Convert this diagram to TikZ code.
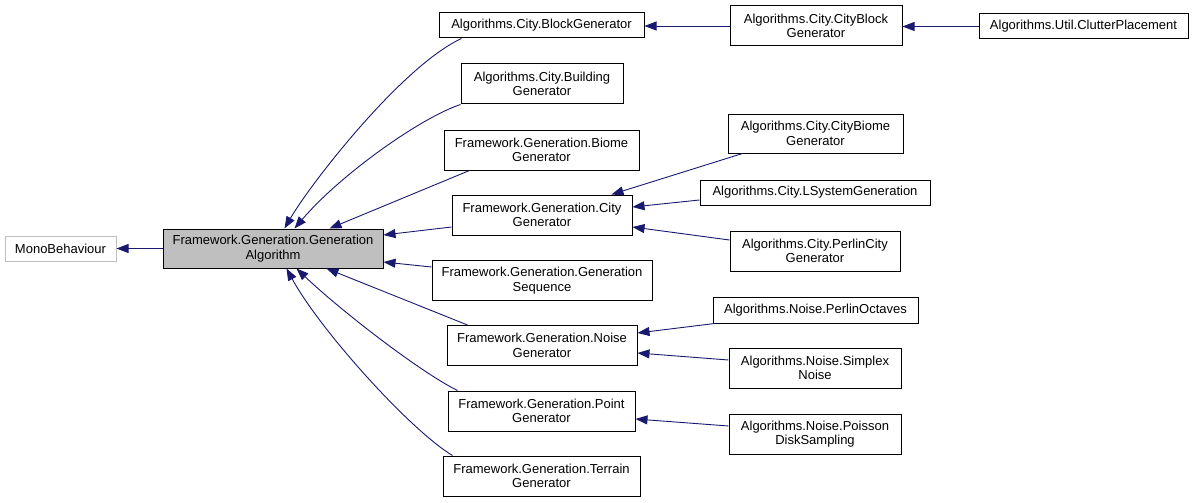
\documentclass[tikz,border=0pt]{standalone}
\usepackage{fontspec}
\setmainfont{Liberation Sans}
\usetikzlibrary{arrows.meta}
\definecolor{edgeblue}{HTML}{191970}
\definecolor{boxgrey}{HTML}{BFBFBF}
\tikzset{
  cls/.style={draw=black, line width=1pt, fill=white, inner sep=0pt, align=center,
    font=\fontsize{13pt}{14.5pt}\selectfont, minimum height=40pt},
  single/.style={minimum height=25pt},
  edge/.style={draw=edgeblue, line width=0.9pt, -{Triangle[length=12pt,width=9pt]}}
}
\begin{document}
\begin{tikzpicture}[x=1pt,y=-1pt]
\useasboundingbox (0,0) rectangle (1195,503);
% nodes
\node[cls, single, draw=boxgrey, minimum width=111pt] (mono) at (60.5,248.5) {MonoBehaviour};
\node[cls, fill=boxgrey, minimum width=220pt, minimum height=39pt] (alg) at (273,248.5) {Framework.Generation.Generation\\Algorithm};
\node[cls, single, minimum width=205pt] (block) at (541.5,25.5) {Algorithms.City.BlockGenerator};
\node[cls, minimum width=162pt] (building) at (542,84) {Algorithms.City.Building\\Generator};
\node[cls, minimum width=195pt] (biome) at (541.5,150) {Framework.Generation.Biome\\Generator};
\node[cls, minimum width=180pt] (city) at (542,215) {Framework.Generation.City\\Generator};
\node[cls, minimum width=220pt] (seq) at (542,280.5) {Framework.Generation.Generation\\Sequence};
\node[cls, minimum width=190pt] (noise) at (542,345.5) {Framework.Generation.Noise\\Generator};
\node[cls, minimum width=187pt] (point) at (541.5,411) {Framework.Generation.Point\\Generator};
\node[cls, minimum width=197pt] (terrain) at (541.5,476) {Framework.Generation.Terrain\\Generator};
\node[cls, minimum width=172pt] (cityblock) at (816,26) {Algorithms.City.CityBlock\\Generator};
\node[cls, single, minimum width=209pt] (clutter) at (1083.5,26.5) {Algorithms.Util.ClutterPlacement};
\node[cls, minimum width=175pt, minimum height=39pt] (citybiome) at (815.5,133.5) {Algorithms.City.CityBiome\\Generator};
\node[cls, single, minimum width=230pt] (lsystem) at (815,192.5) {Algorithms.City.LSystemGeneration};
\node[cls, minimum width=170pt] (perlincity) at (815,251) {Algorithms.City.PerlinCity\\Generator};
\node[cls, single, minimum width=205pt, minimum height=26pt] (octaves) at (815.5,310) {Algorithms.Noise.PerlinOctaves};
\node[cls, minimum width=172pt] (simplex) at (815,368) {Algorithms.Noise.Simplex\\Noise};
\node[cls, minimum width=172pt] (poisson) at (815,434) {Algorithms.Noise.Poisson\\DiskSampling};
% edges to GenerationAlgorithm
\draw[edge] ([xshift=23pt]block.south west) .. controls (402,66) and (311,183) .. ([xshift=122pt]alg.north west);
\draw[edge] (building.south west) .. controls (420,118) and (340,175) .. ([xshift=132pt]alg.north west);
\draw[edge] ([xshift=26pt]biome.south west) -- ([xshift=167pt]alg.north west);
\draw[edge] ([yshift=-12pt]city.west) -- ([yshift=13.5pt]alg.east);
\draw[edge] ([yshift=13.5pt]seq.west) -- ([yshift=-13.5pt]alg.east);
\draw[edge] ([xshift=21pt]noise.north west) -- ([xshift=164pt]alg.south west);
\draw[edge] ([xshift=10pt]point.north west) .. controls (420,372) and (340,310) .. ([xshift=134pt]alg.south west);
\draw[edge] ([xshift=10pt]terrain.north west) .. controls (410,430) and (320,330) .. ([xshift=124pt]alg.south west);
\draw[edge] (alg.west) -- (mono.east);
% other edges
\draw[edge] (cityblock.west) -- (cityblock.west -| block.east);
\draw[edge] (clutter.west) -- (clutter.west -| cityblock.east);
\draw[edge] ([xshift=15pt]citybiome.south west) -- ([xshift=160pt]city.north west);
\draw[edge] ([yshift=-7.5pt]lsystem.west) -- ([yshift=8pt]city.east);
\draw[edge] ([yshift=11pt]perlincity.west) -- ([yshift=-12pt]city.east);
\draw[edge] ([xshift=2pt]octaves.south west) -- ([yshift=12.5pt]noise.east);
\draw[edge] ([yshift=8pt]simplex.west) -- ([yshift=-7.5pt]noise.east);
\draw[edge] ([yshift=8pt]poisson.west) -- ([yshift=-8pt]point.east);
\end{tikzpicture}
\end{document}
